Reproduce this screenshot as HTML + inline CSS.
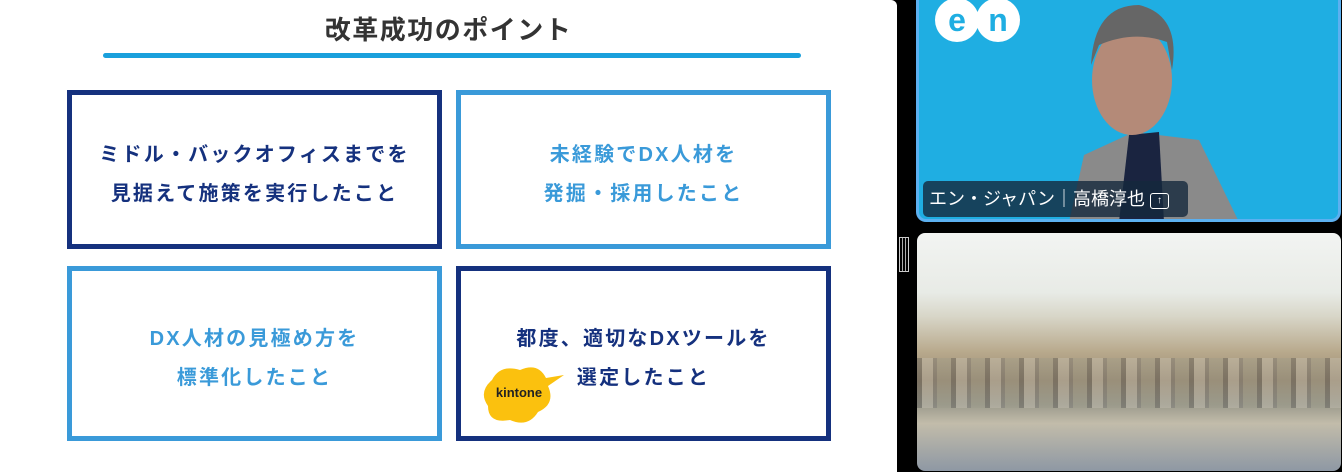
<!DOCTYPE html>
<html><head><meta charset="utf-8"><style>
body{margin:0;width:1342px;height:472px;background:#000;position:relative;overflow:hidden;font-family:"Liberation Sans","Noto Sans CJK JP",sans-serif}
.slide{position:absolute;left:0;top:0;width:897px;height:472px;background:#fff;border-radius:0 6px 0 0}
.title{position:absolute;left:0;width:897px;top:10px;text-align:center;font-size:26px;font-weight:bold;color:#333;letter-spacing:1.5px}
.line{position:absolute;left:103px;top:53px;width:698px;height:5px;background:#1aa0dc;border-radius:3px}
.box{position:absolute;box-sizing:border-box;border:5px solid;display:flex;align-items:center;justify-content:center;text-align:center;font-weight:bold;font-size:20px;line-height:39px;letter-spacing:2.2px;padding-top:10px}
.d{border-color:#15317e;color:#15317e}
.l{border-color:#3a9ad9;color:#3a9ad9}
.v1{position:absolute;left:916px;top:0;width:425px;height:222px;background:#1faee2;border:3px solid #5cb0f0;border-top:none;box-sizing:border-box;border-radius:0 0 10px 10px;overflow:hidden}
.v2{position:absolute;left:917px;top:233px;width:424px;height:238px;border-radius:8px;overflow:hidden;background:linear-gradient(#f2f4f2 0,#e8ebe6 25%,#d8d6c8 35%,#b8a98c 50%,#9a8a72 62%,#9c9a8c 72%,#c2bcaa 80%,#8e98a4 100%)}
</style></head><body>
<div class="slide">
<div class="title">改革成功のポイント</div>
<div class="line"></div>
<div class="box d" style="left:67px;top:90px;width:375px;height:159px">ミドル・バックオフィスまでを<br>見据えて施策を実行したこと</div>
<div class="box l" style="left:456px;top:90px;width:375px;height:159px">未経験でDX人材を<br>発掘・採用したこと</div>
<div class="box l" style="left:67px;top:266px;width:375px;height:175px">DX人材の見極め方を<br>標準化したこと</div>
<div class="box d" style="left:456px;top:266px;width:375px;height:175px">都度、適切なDXツールを<br>選定したこと</div>
<svg style="position:absolute;left:480px;top:362px" width="90" height="66"><path d="M12 18 Q20 2 40 8 Q58 0 66 16 L84 13 L68 24 Q76 42 58 50 Q48 66 30 58 Q8 62 8 44 Q-2 30 12 18Z" fill="#fbc10e"/><text x="39" y="35" font-size="13" font-weight="bold" fill="#222" text-anchor="middle" font-family="Liberation Sans,sans-serif">kintone</text></svg>
</div>
<div class="v1">
<svg width="425" height="222" style="position:absolute;left:0;top:0">
<circle cx="38" cy="20" r="22" fill="#fff"/><circle cx="79" cy="20" r="22" fill="#fff"/>
<text x="38" y="31" font-size="32" font-weight="bold" fill="#1faee2" text-anchor="middle">e</text>
<text x="79" y="31" font-size="32" font-weight="bold" fill="#1faee2" text-anchor="middle">n</text>
<path d="M150 222 L165 155 L215 132 L280 140 L320 222Z" fill="#8a8a8a"/>
<path d="M210 135 L240 132 L245 222 L200 222Z" fill="#1a2440"/>
<ellipse cx="213" cy="80" rx="40" ry="55" fill="#b48a78"/>
<path d="M172 65 Q175 5 220 5 Q262 15 253 70 L248 42 Q215 30 180 45Z" fill="#666"/>
</svg>
<div style="position:absolute;left:4px;top:181px;width:265px;height:36px;background:rgba(20,40,60,.8);border-radius:5px;color:#fff;font-size:18px;line-height:36px;padding-left:6px;box-sizing:border-box;white-space:nowrap">エン・ジャパン｜高橋淳也 <span style="display:inline-block;width:17px;height:14px;border:1.5px solid #fff;border-radius:3px;font-size:10px;line-height:14px;text-align:center;vertical-align:2px">↑</span></div>
</div>
<div style="position:absolute;left:899px;top:237px;width:10px;height:35px;border:1px solid #ccc;box-sizing:border-box;background:repeating-linear-gradient(90deg,#000 0 2px,#aaa 2px 3px)"></div>
<div class="v2">
<div style="position:absolute;left:0;top:125px;width:424px;height:50px;background:repeating-linear-gradient(90deg,#444 0 5px,#c8c4b8 5px 16px,#666 16px 20px,#998 20px 34px);opacity:.35"></div>
</div>
</body></html>
